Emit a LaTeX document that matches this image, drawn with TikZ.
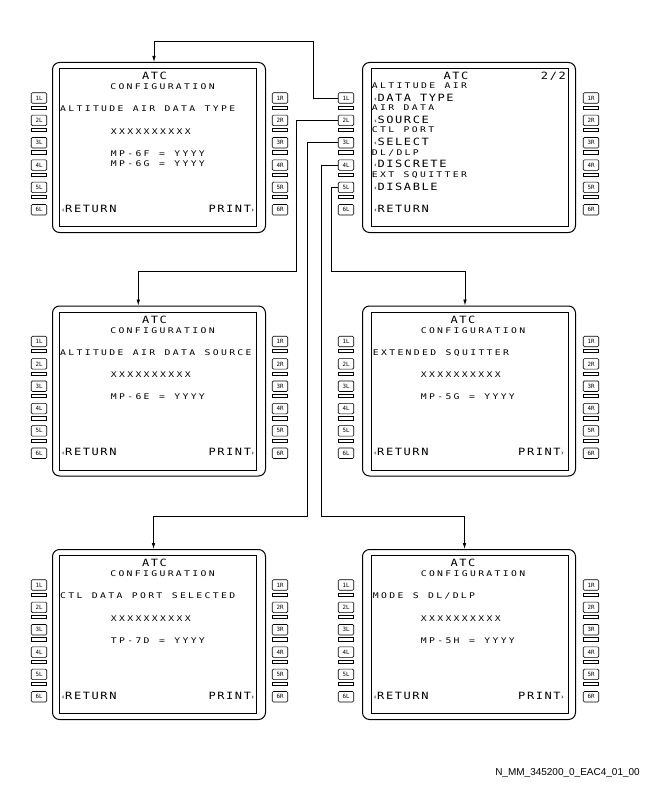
\documentclass[tikz,border=0pt]{standalone}
\usepackage{fontspec}
\setmainfont{Liberation Sans}
\newfontfamily\cdumonofam{DejaVu Sans Mono}
\newfontfamily\cdusmallfam[FakeStretch=1.25,LetterSpace=30,WordSpace=1.15]{DejaVu Sans Mono}
\newfontfamily\cdulargefam[FakeStretch=1.2,LetterSpace=16,WordSpace=1.0]{DejaVu Sans Mono}
\newfontfamily\cdusymfam{DejaVu Sans}
\usetikzlibrary{arrows.meta}

% CDU display fonts: small and large lines, key captions
\newcommand\cdusm{\cdusmallfam\fontsize{7.8}{9}\selectfont}
\newcommand\cdulg{\cdulargefam\fontsize{10}{12}\selectfont}
\newcommand\cdukey{\cdumonofam\fontsize{5.8}{6}\selectfont}
% line select prompts
\newcommand\selL{\makebox[0pt][r]{\cdusymfam\fontsize{7}{7}\selectfont ‹\hspace{0.6pt}}}
\newcommand\selR{\makebox[0pt][l]{\hspace{0.4pt}\cdusymfam\fontsize{7}{7}\selectfont ›}}

\tikzset{
  outerframe/.style={draw, line width=1pt, rounded corners=7pt, minimum width=213pt,
    minimum height=170pt, anchor=north west, inner sep=0pt},
  innerframe/.style={draw, line width=0.8pt, minimum width=197pt, minimum height=158pt,
    anchor=north west, inner sep=0pt},
  lsk/.style={draw, line width=0.6pt, rounded corners=1.2pt, minimum width=15.5pt,
    minimum height=10.5pt, inner sep=0pt, font=\cdukey},
  lskbar/.style={draw, line width=0.6pt, minimum width=15.5pt, minimum height=3.3pt, inner sep=0pt},
  conn/.style={draw, line width=0.8pt, -{Latex[length=6pt,width=3.6pt]}},
  sm/.style={anchor=base west, inner sep=0pt, font=\cdusm},
  smc/.style={anchor=base, inner sep=0pt, font=\cdusm},
  lg/.style={anchor=base west, inner sep=0pt, font=\cdulg},
  lgc/.style={anchor=base, inner sep=0pt, font=\cdulg},
}

% #1 name, #2 x of left keys, #3 x of right keys, #4 left edge of display
\newcommand\cduframe[4]{%
  \node[outerframe] (#1) at (0,0) {};
  \node[innerframe] (#1-scr) at (#4,6) {};
  \foreach \i in {1,...,6}{
    \node[lsk] (#1-\i) at ({#2},{36+22.35*(\i-1)}) {\i L};
    \node[lsk] (#1-r\i) at ({#3},{36+22.35*(\i-1)}) {\i R};
  }
  \foreach \i in {1,...,5}{
    \node[lskbar] (#1-b\i) at ({#2},{45.6+22.35*(\i-1)}) {};
    \node[lskbar] (#1-rb\i) at ({#3},{45.6+22.35*(\i-1)}) {};
  }
}

\begin{document}
\begin{tikzpicture}[x=1pt,y=-1pt]
\useasboundingbox (0,0) rectangle (648,792);

% ATC page 2/2
\begin{scope}[shift={(362,62)}]
  \cduframe{sB}{-16}{229}{9}
  \node[lgc] (sB-t1) at (94,17) {ATC};
  \node[lg, anchor=base east] (sB-pg) at (204,17) {2/2};
  \node[sm] (sB-a1) at (9.7,26.3) {ALTITUDE AIR};
  \node[lg] (sB-c1) at (15.3,39.7) {\selL DATA TYPE};
  \node[sm] (sB-a2) at (9.7,48) {AIR DATA};
  \node[lg] (sB-c2) at (15.3,61.3) {\selL SOURCE};
  \node[sm] (sB-a3) at (9.7,70.3) {CTL PORT};
  \node[lg] (sB-c3) at (15.3,83.7) {\selL SELECT};
  \node[sm] (sB-a4) at (9.7,93) {DL/DLP};
  \node[lg] (sB-c4) at (15.3,105.3) {\selL DISCRETE};
  \node[sm] (sB-a5) at (9.7,115.7) {EXT SQUITTER};
  \node[lg] (sB-c5) at (15.3,128) {\selL DISABLE};
  \node[lg] (sB-c6) at (15.3,150.3) {\selL RETURN};
\end{scope}

% altitude air data type
\begin{scope}[shift={(52,62)}]
  \cduframe{sA}{-13}{228}{7}
  \node[lgc] (sA-t1) at (102.5,17.5) {ATC};
  \node[smc] (sA-t2) at (110.5,27.5) {CONFIGURATION};
  \node[sm] (sA-t3) at (8,49.5) {ALTITUDE AIR DATA TYPE};
  \node[sm] (sA-t4) at (58.7,72) {XXXXXXXXXX};
  \node[sm] (sA-t5) at (58.7,94) {MP-6F = YYYY};
  \node[sm] (sA-t6) at (58.7,104) {MP-6G = YYYY};
  \node[lg] (sA-t7) at (13,150) {\selL RETURN};
  \node[lg] (sA-t8) at (156.3,150) {PRINT\selR};
\end{scope}

% altitude air data source
\begin{scope}[shift={(52,305.5)}]
  \cduframe{sC}{-13}{228}{7}
  \node[lgc] (sC-t1) at (102.5,17.5) {ATC};
  \node[smc] (sC-t2) at (110.5,27.5) {CONFIGURATION};
  \node[sm] (sC-t3) at (8,49.5) {ALTITUDE AIR DATA SOURCE};
  \node[sm] (sC-t4) at (58.7,72) {XXXXXXXXXX};
  \node[sm] (sC-t5) at (58.7,94) {MP-6E = YYYY};
  \node[lg] (sC-t7) at (13,150) {\selL RETURN};
  \node[lg] (sC-t8) at (156.3,150) {PRINT\selR};
\end{scope}

% extended squitter
\begin{scope}[shift={(362,305.5)}]
  \cduframe{sD}{-16}{229}{9}
  \node[lgc] (sD-t1) at (101,17.5) {ATC};
  \node[smc] (sD-t2) at (111,27.5) {CONFIGURATION};
  \node[sm] (sD-t3) at (10.7,49.5) {EXTENDED SQUITTER};
  \node[sm] (sD-t4) at (58.7,72) {XXXXXXXXXX};
  \node[sm] (sD-t5) at (58.7,94) {MP-5G = YYYY};
  \node[lg] (sD-t7) at (15,150) {\selL RETURN};
  \node[lg] (sD-t8) at (156,150) {PRINT\selR};
\end{scope}

% ctl data port selected
\begin{scope}[shift={(52,549)}]
  \cduframe{sE}{-13}{228}{7}
  \node[lgc] (sE-t1) at (102.5,17.5) {ATC};
  \node[smc] (sE-t2) at (110.5,27.5) {CONFIGURATION};
  \node[sm] (sE-t3) at (8,49.5) {CTL DATA PORT SELECTED};
  \node[sm] (sE-t4) at (58.7,72) {XXXXXXXXXX};
  \node[sm] (sE-t5) at (58.7,94) {TP-7D = YYYY};
  \node[lg] (sE-t7) at (13,150) {\selL RETURN};
  \node[lg] (sE-t8) at (156.3,150) {PRINT\selR};
\end{scope}

% mode s dl/dlp
\begin{scope}[shift={(362,549)}]
  \cduframe{sF}{-16}{229}{9}
  \node[lgc] (sF-t1) at (101,17.5) {ATC};
  \node[smc] (sF-t2) at (111,27.5) {CONFIGURATION};
  \node[sm] (sF-t3) at (10.7,49.5) {MODE S DL/DLP};
  \node[sm] (sF-t4) at (58.7,72) {XXXXXXXXXX};
  \node[sm] (sF-t5) at (58.7,94) {MP-5H = YYYY};
  \node[lg] (sF-t7) at (15,150) {\selL RETURN};
  \node[lg] (sF-t8) at (156,150) {PRINT\selR};
\end{scope}

% routing bends of the line select connectors
\coordinate (j1) at (313.3,41.7);
\coordinate (j2) at (296.7,271);
\coordinate (j3) at (307.5,516);
\coordinate (j4) at (321.3,516);
\coordinate (j5) at (331.3,271);

\draw[conn] (sB-1.west) -| (j1) -| ([xshift=102pt]sA.north west);
\draw[conn] (sB-2.west) -| (j2) -| ([xshift=86.3pt]sC.north west);
\draw[conn] (sB-3.west) -| (j3) -| ([xshift=101.5pt]sE.north west);
\draw[conn] (sB-4.west) -| (j4) -| ([xshift=102.5pt]sF.north west);
\draw[conn] (sB-5.west) -| (j5) -| ([xshift=103pt]sD.north west);

\node[anchor=base east, inner sep=0pt, font=\fontsize{10}{12}\selectfont] (docid)
  at (640,775.5) {N\_MM\_345200\_0\_EAC4\_01\_00};
\end{tikzpicture}
\end{document}
